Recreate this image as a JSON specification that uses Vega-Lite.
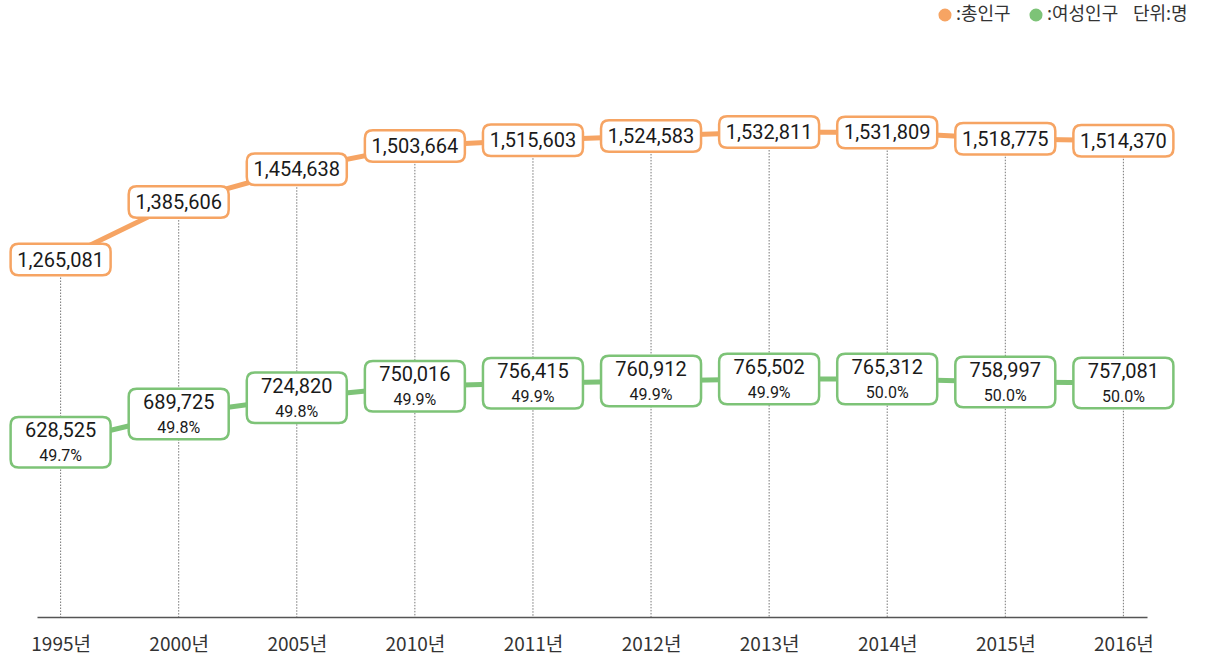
{
  "$schema": "https://vega.github.io/schema/vega-lite/v6.json",
  "autosize": "none",
  "width": 1110,
  "height": 617,
  "padding": {"left": 37, "top": 0, "right": 63, "bottom": 47},
  "background": "white",
  "data": {"values": [
    {"year": "1995년", "total": 1265081, "female": 628525, "pct": 0.497},
    {"year": "2000년", "total": 1385606, "female": 689725, "pct": 0.498},
    {"year": "2005년", "total": 1454638, "female": 724820, "pct": 0.498},
    {"year": "2010년", "total": 1503664, "female": 750016, "pct": 0.499},
    {"year": "2011년", "total": 1515603, "female": 756415, "pct": 0.499},
    {"year": "2012년", "total": 1524583, "female": 760912, "pct": 0.499},
    {"year": "2013년", "total": 1532811, "female": 765502, "pct": 0.499},
    {"year": "2014년", "total": 1531809, "female": 765312, "pct": 0.500},
    {"year": "2015년", "total": 1518775, "female": 758997, "pct": 0.500},
    {"year": "2016년", "total": 1514370, "female": 757081, "pct": 0.500}
  ]},
  "encoding": {
    "x": {
      "field": "year", "type": "ordinal", "sort": null,
      "scale": {"type": "point", "padding": 0.2},
      "axis": {"title": null, "ticks": false, "grid": false, "labelAngle": 0,
               "domainColor": "#555555", "domainWidth": 1.5,
               "labelFont": "Noto Sans CJK KR", "labelFontSize": 19, "labelColor": "#333333", "labelPadding": 18}
    }
  },
  "layer": [
    {
      "mark": {"type": "rule", "color": "#777777", "strokeWidth": 1, "strokeDash": [1.5, 1.5]},
      "encoding": {
        "y": {"field": "total", "type": "quantitative", "scale": {"domain": [514331, 1810031]}, "axis": null},
        "y2": {"datum": 514331}
      }
    },
    {
      "encoding": {
        "y": {"field": "female", "type": "quantitative", "scale": {"domain": [250474, 1585662]}, "axis": null}
      },
      "layer": [
        {
          "mark": {"type": "line", "strokeWidth": 5},
          "encoding": {"color": {"datum": ":여성인구", "type": "nominal"}}
        },
        {
          "mark": {"type": "point", "filled": true, "fill": "white", "stroke": "#7DC377", "strokeWidth": 2.5, "opacity": 1, "size": 10000,
                   "shape": "M -0.84 -0.505 L 0.84 -0.505 Q 1 -0.505 1 -0.345 L 1 0.345 Q 1 0.505 0.84 0.505 L -0.84 0.505 Q -1 0.505 -1 0.345 L -1 -0.345 Q -1 -0.505 -0.84 -0.505 Z"}
        },
        {
          "mark": {"type": "text", "fontSize": 20, "fontWeight": 400, "color": "#1a1a1a", "dy": -11, "baseline": "middle"},
          "encoding": {"text": {"field": "female", "type": "quantitative", "format": ",d"}}
        },
        {
          "mark": {"type": "text", "fontSize": 16, "fontWeight": 400, "color": "#1a1a1a", "dy": 14, "baseline": "middle"},
          "encoding": {"text": {"field": "pct", "type": "quantitative", "format": ".1%"}}
        }
      ]
    },
    {
      "encoding": {
        "y": {"field": "total", "type": "quantitative", "scale": {"domain": [514331, 1810031]}, "axis": null}
      },
      "layer": [
        {
          "mark": {"type": "line", "strokeWidth": 5},
          "encoding": {"color": {
            "datum": ":총인구", "type": "nominal",
            "scale": {"domain": [":총인구", ":여성인구"], "range": ["#F6A463", "#7DC377"]},
            "legend": {
              "orient": "none", "legendX": 899, "legendY": 6, "direction": "horizontal",
              "title": "단위:명", "titleOrient": "right", "titleFont": "Noto Sans CJK KR", "titleFontSize": 18,
              "titleFontWeight": "normal", "titleColor": "#333333", "titlePadding": 15,
              "symbolType": "circle", "symbolSize": 170, "symbolStrokeWidth": 0, "symbolOpacity": 1,
              "labelFont": "Noto Sans CJK KR", "labelFontSize": 18, "labelColor": "#333333", "labelOffset": 2,
              "columnPadding": 16,
              "encode": {"symbols": {"update": {"fill": {"scale": "color", "field": "value"}, "strokeWidth": {"value": 0}}}}
            }
          }}
        },
        {
          "mark": {"type": "point", "filled": true, "fill": "white", "stroke": "#F6A463", "strokeWidth": 2.5, "opacity": 1, "size": 10000,
                   "shape": "M -0.84 -0.315 L 0.84 -0.315 Q 1 -0.315 1 -0.155 L 1 0.155 Q 1 0.315 0.84 0.315 L -0.84 0.315 Q -1 0.315 -1 0.155 L -1 -0.155 Q -1 -0.315 -0.84 -0.315 Z"}
        },
        {
          "mark": {"type": "text", "fontSize": 20, "fontWeight": 400, "color": "#1a1a1a", "baseline": "middle", "dy": 1},
          "encoding": {"text": {"field": "total", "type": "quantitative", "format": ",d"}}
        }
      ]
    }
  ],
  "resolve": {"scale": {"y": "independent"}},
  "config": {
    "view": {"stroke": null},
    "font": "Roboto"
  }
}
